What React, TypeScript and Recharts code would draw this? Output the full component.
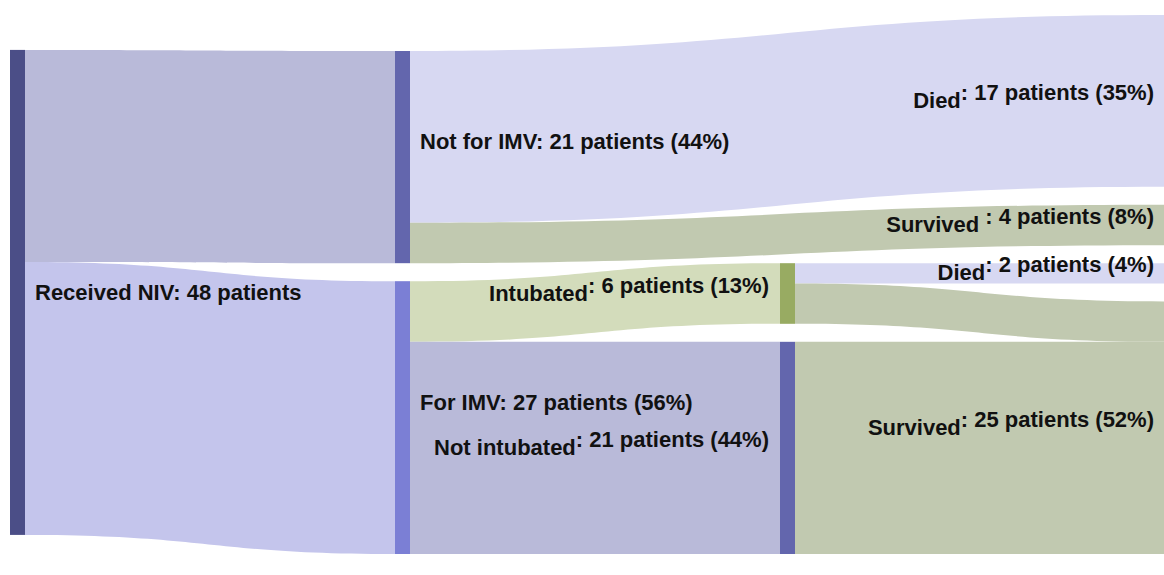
import React from "react";
import { Sankey } from "recharts";

// nodes, in column order
const NODE_NAMES = [
  "Received NIV",
  "Not for IMV",
  "For IMV",
  "Intubated",
  "Not intubated",
  "Died",
  "Survived ",
  "Died",
  "Survived",
];
const NODE_VALUE_TEXT = [
  "48 patients",
  "21 patients (44%)",
  "27 patients (56%)",
  "6 patients (13%)",
  "21 patients (44%)",
  "17 patients (35%)",
  "4 patients (8%)",
  "2 patients (4%)",
  "25 patients (52%)",
];
const NODE_COLORS = [
  "#4b4e87",
  "#6366ad",
  "#7b7fd5",
  "#98ab62",
  "#6366ad",
  "#6366ad",
  "#98ab62",
  "#6366ad",
  "#98ab62",
];

// links
const LINK_SOURCES = [0, 0, 1, 1, 2, 2, 3, 3, 4];
const LINK_TARGETS = [1, 2, 5, 6, 3, 4, 7, 8, 8];
const LINK_VALUES = [21, 27, 17, 4, 6, 21, 2, 4, 21];
const LINK_COLORS = [
  "#b9bad9",
  "#c4c5ec",
  "#d7d8f2",
  "#c1c9b0",
  "#d3dcbb",
  "#b9bad9",
  "#d7d8f2",
  "#c1c9b0",
  "#c1c9b0",
];

const sankeyData = {
  nodes: NODE_NAMES.map((name, i) => ({
    name,
    label: NODE_VALUE_TEXT[i],
    color: NODE_COLORS[i],
  })),
  links: LINK_SOURCES.map((source, i) => ({
    source,
    target: LINK_TARGETS[i],
    value: LINK_VALUES[i],
    color: LINK_COLORS[i],
  })),
};

const FONT = "'Liberation Sans', Arial, sans-serif";

function FlowNode(props: any) {
  const { x, y, width, height, payload } = props;
  const cy = y + height / 2;
  const depth = payload.depth;
  return (
    <g>
      <rect x={x} y={y} width={width} height={height} fill={payload.color} />
      {depth >= 2 ? (
        // name, then the count raised a little
        <text
          x={x - 11}
          y={cy + 7}
          textAnchor="end"
          fontFamily={FONT}
          fontWeight="bold"
          fontSize={22}
          fill="#111"
        >
          <tspan>{payload.name}</tspan>
          <tspan dy={-8}>: {payload.label}</tspan>
        </text>
      ) : (
        <text
          x={x + width + 10}
          y={depth === 0 ? cy + 8 : cy - 8}
          fontFamily={FONT}
          fontWeight="bold"
          fontSize={22}
          fill="#111"
        >
          {payload.name}: {payload.label}
        </text>
      )}
    </g>
  );
}

// filled ribbon instead of a thick stroke
function FlowLink(props: any) {
  const {
    sourceX,
    targetX,
    sourceY,
    targetY,
    sourceControlX,
    targetControlX,
    linkWidth,
    index,
    payload,
  } = props;
  const h = linkWidth / 2;
  const d =
    `M${sourceX},${sourceY - h}` +
    `C${sourceControlX},${sourceY - h} ${targetControlX},${targetY - h} ${targetX},${targetY - h}` +
    `L${targetX},${targetY + h}` +
    `C${targetControlX},${targetY + h} ${sourceControlX},${sourceY + h} ${sourceX},${sourceY + h}Z`;
  return <path d={d} fill={payload?.color ?? LINK_COLORS[index]} stroke="none" />;
}

export default function App() {
  return (
    <div
      style={{
        position: "fixed",
        left: 0,
        top: 0,
        width: 1164,
        height: 575,
        overflow: "hidden",
        background: "#fff",
      }}
    >
      <Sankey
        width={1180}
        height={575}
        data={sankeyData}
        nodeWidth={15}
        nodePadding={18}
        sort={false}
        linkCurvature={0.5}
        margin={{ top: 15, left: 10, right: 0, bottom: 21 }}
        node={<FlowNode />}
        link={<FlowLink />}
      />
    </div>
  );
}
